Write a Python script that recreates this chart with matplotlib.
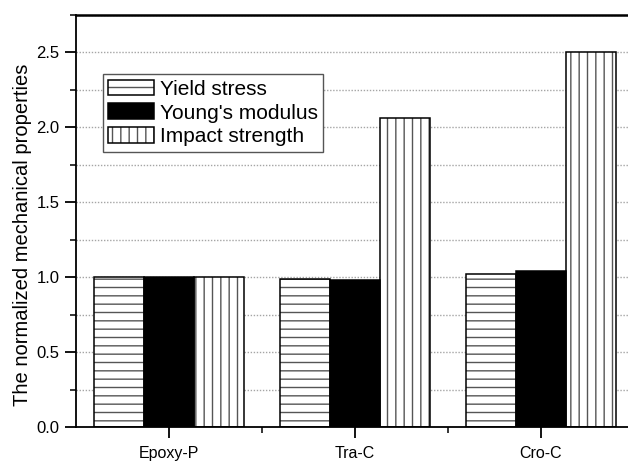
import numpy as np

import matplotlib
matplotlib.use('Agg')

import matplotlib.pyplot as plt
import matplotlib.ticker as mtick
from matplotlib import font_manager
from matplotlib.legend_handler import HandlerTuple

samples = ['Epoxy-P', 'Tra-C', 'Cro-C']
series = ['Yield stress', "Young's modulus", 'Impact strength']
yield_stress = [1.00, 0.99, 1.02]
youngs_modulus = [1.00, 0.98, 1.04]
impact_strength = [1.00, 2.06, 2.50]

plt.rcParams['font.family'] = 'Liberation Sans'
plt.rcParams['hatch.color'] = '#555555'
plt.rcParams['hatch.linewidth'] = 1.0

installed = {f.name for f in font_manager.fontManager.ttflist}
narrow = 'Liberation Sans Narrow' if 'Liberation Sans Narrow' in installed else 'Liberation Sans'

fig = plt.figure(figsize = (6.28, 4.61), dpi = 100)
ax = fig.add_axes([76 / 628, 34 / 461, 558 / 628, 412 / 461])

x = np.arange(1, len(samples) + 1)
w = 0.27

handles = []
styles = [('white', '--'), ('black', None), ('white', '||')]
for k, (vals, (fc, hatch)) in enumerate(zip([yield_stress, youngs_modulus, impact_strength], styles)):
    pos = x + (k - 1) * w
    # hatch layer first (grey lines), black outline on top
    fill = ax.bar(pos, vals, w, color = fc, hatch = hatch, zorder = 2)
    edge = ax.bar(pos, vals, w, fill = False, edgecolor = 'black', linewidth = 1.1, zorder = 3)
    handles.append((fill[0], edge[0]))

ax.set_xlim(0.5, 3.5)
ax.set_ylim(0, 2.75)

ax.set_xticks(x)
ax.set_xticklabels(samples, fontsize = 12.5 if narrow != 'Liberation Sans' else 11.5, family = narrow)
ax.xaxis.set_minor_locator(mtick.FixedLocator([1.5, 2.5]))

ax.yaxis.set_major_locator(mtick.MultipleLocator(0.5))
ax.yaxis.set_minor_locator(mtick.MultipleLocator(0.25))
ax.yaxis.set_major_formatter(mtick.FormatStrFormatter('%.1f'))
plt.yticks(fontsize = 12)

ax.tick_params(which = 'major', length = 8, width = 1.3, pad = 4)
ax.tick_params(which = 'minor', length = 4.5, width = 1.1)
ax.tick_params(axis = 'x', which = 'major', pad = 6)

ax.yaxis.grid(True, which = 'both', linestyle = (0, (1, 1.2)), color = '#a5a5a5', linewidth = 1.0)
ax.set_axisbelow(True)

for side in ['left', 'bottom']:
    ax.spines[side].set_linewidth(1.3)
ax.spines['top'].set_linewidth(1.8)
ax.spines['right'].set_visible(False)

ax.set_ylabel('The normalized mechanical properties', fontsize = 14.5)
ax.yaxis.set_label_coords(-0.079, 0.466)

leg = ax.legend(handles, series, loc = 'upper left', bbox_to_anchor = (0.048, 0.856),
                borderaxespad = 0, fontsize = 15, handlelength = 2.2, handleheight = 0.8,
                handletextpad = 0.3, labelspacing = 0.22, borderpad = 0.25,
                fancybox = False, framealpha = 1,
                handler_map = {tuple: HandlerTuple(ndivide = 1)})
leg.get_frame().set_edgecolor('#555555')
leg.get_frame().set_linewidth(1.0)

plt.savefig('out.png', dpi = 100)
plt.close()
